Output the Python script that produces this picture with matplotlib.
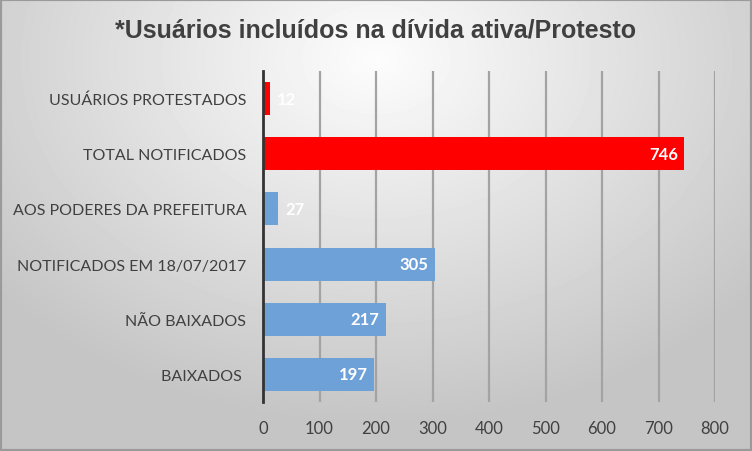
import numpy as np
import matplotlib
matplotlib.use("Agg")
import matplotlib.pyplot as plt

# data (top to bottom as shown)
categories = ["USUÁRIOS PROTESTADOS", "TOTAL NOTIFICADOS", "AOS PODERES DA PREFEITURA",
              "NOTIFICADOS EM 18/07/2017", "NÃO BAIXADOS", "BAIXADOS "]
values = [12, 746, 27, 305, 217, 197]
colors = ["#ff0000", "#ff0000", "#6fa1d9", "#6fa1d9", "#6fa1d9", "#6fa1d9"]
xticks = [0, 100, 200, 300, 400, 500, 600, 700, 800]

LBL_FONT = ["Lato", "DejaVu Sans"]
TITLE_FONT = ["Liberation Sans", "DejaVu Sans"]
TXT = "#404040"

fig = plt.figure(figsize=(7.52, 4.52), dpi=100)

# radial gradient background
bg = fig.add_axes([0, 0, 1, 1], zorder=-10)
yy, xx = np.mgrid[0:452, 0:752]
r = np.sqrt(((xx - 376) / 540.0) ** 2 + ((yy - 60) / 400.0) ** 2)
shade = np.clip(0.99 - 0.24 * r, 0.77, 1.0)
bg.imshow(shade, cmap="gray", vmin=0, vmax=1, aspect="auto", interpolation="bilinear")
bg.axis("off")
# outer frame
fig.patches.append(plt.Rectangle((0, 0), 1, 1, transform=fig.transFigure,
                                 fill=False, edgecolor="#9a9a9a", linewidth=3))

ax = fig.add_axes([263 / 752, 1 - 403 / 452, 452 / 752, 331 / 452])
ax.patch.set_alpha(0)

y = np.arange(len(categories))
ax.barh(y, values, height=0.6, color=colors, zorder=3)
ax.set_ylim(len(categories) - 0.5, -0.5)
ax.set_xlim(0, 800)
ax.set_xticks(xticks)
ax.set_xticklabels([str(t) for t in xticks], family=LBL_FONT, fontsize=12, color=TXT)
ax.set_yticks(y)
ax.set_yticklabels(categories, family=LBL_FONT, fontsize=11.5, color=TXT)
ax.tick_params(axis="x", length=0, pad=13)
ax.tick_params(axis="y", length=0, pad=12)
ax.grid(axis="x", color="#a3a3a3", linewidth=1.6, zorder=1)
for s in ["top", "right", "bottom"]:
    ax.spines[s].set_visible(False)
ax.spines["left"].set_color("#333333")
ax.spines["left"].set_linewidth(2)
ax.spines["left"].set_zorder(4)

for yi, v in zip(y, values):
    if v > 100:
        ax.text(v - 12, yi, str(v), ha="right", va="center", color="white",
                fontsize=12, fontweight="bold", family=LBL_FONT, zorder=5)
    else:
        ax.text(v + 12, yi, str(v), ha="left", va="center", color="white",
                fontsize=12, fontweight="bold", family=LBL_FONT, zorder=5)

fig.text(0.5, 1 - 31 / 452, "*Usuários incluídos na dívida ativa/Protesto", ha="center",
         va="center", fontsize=18, fontweight="bold", color=TXT, family=TITLE_FONT)

fig.savefig("out.png", dpi=100)
